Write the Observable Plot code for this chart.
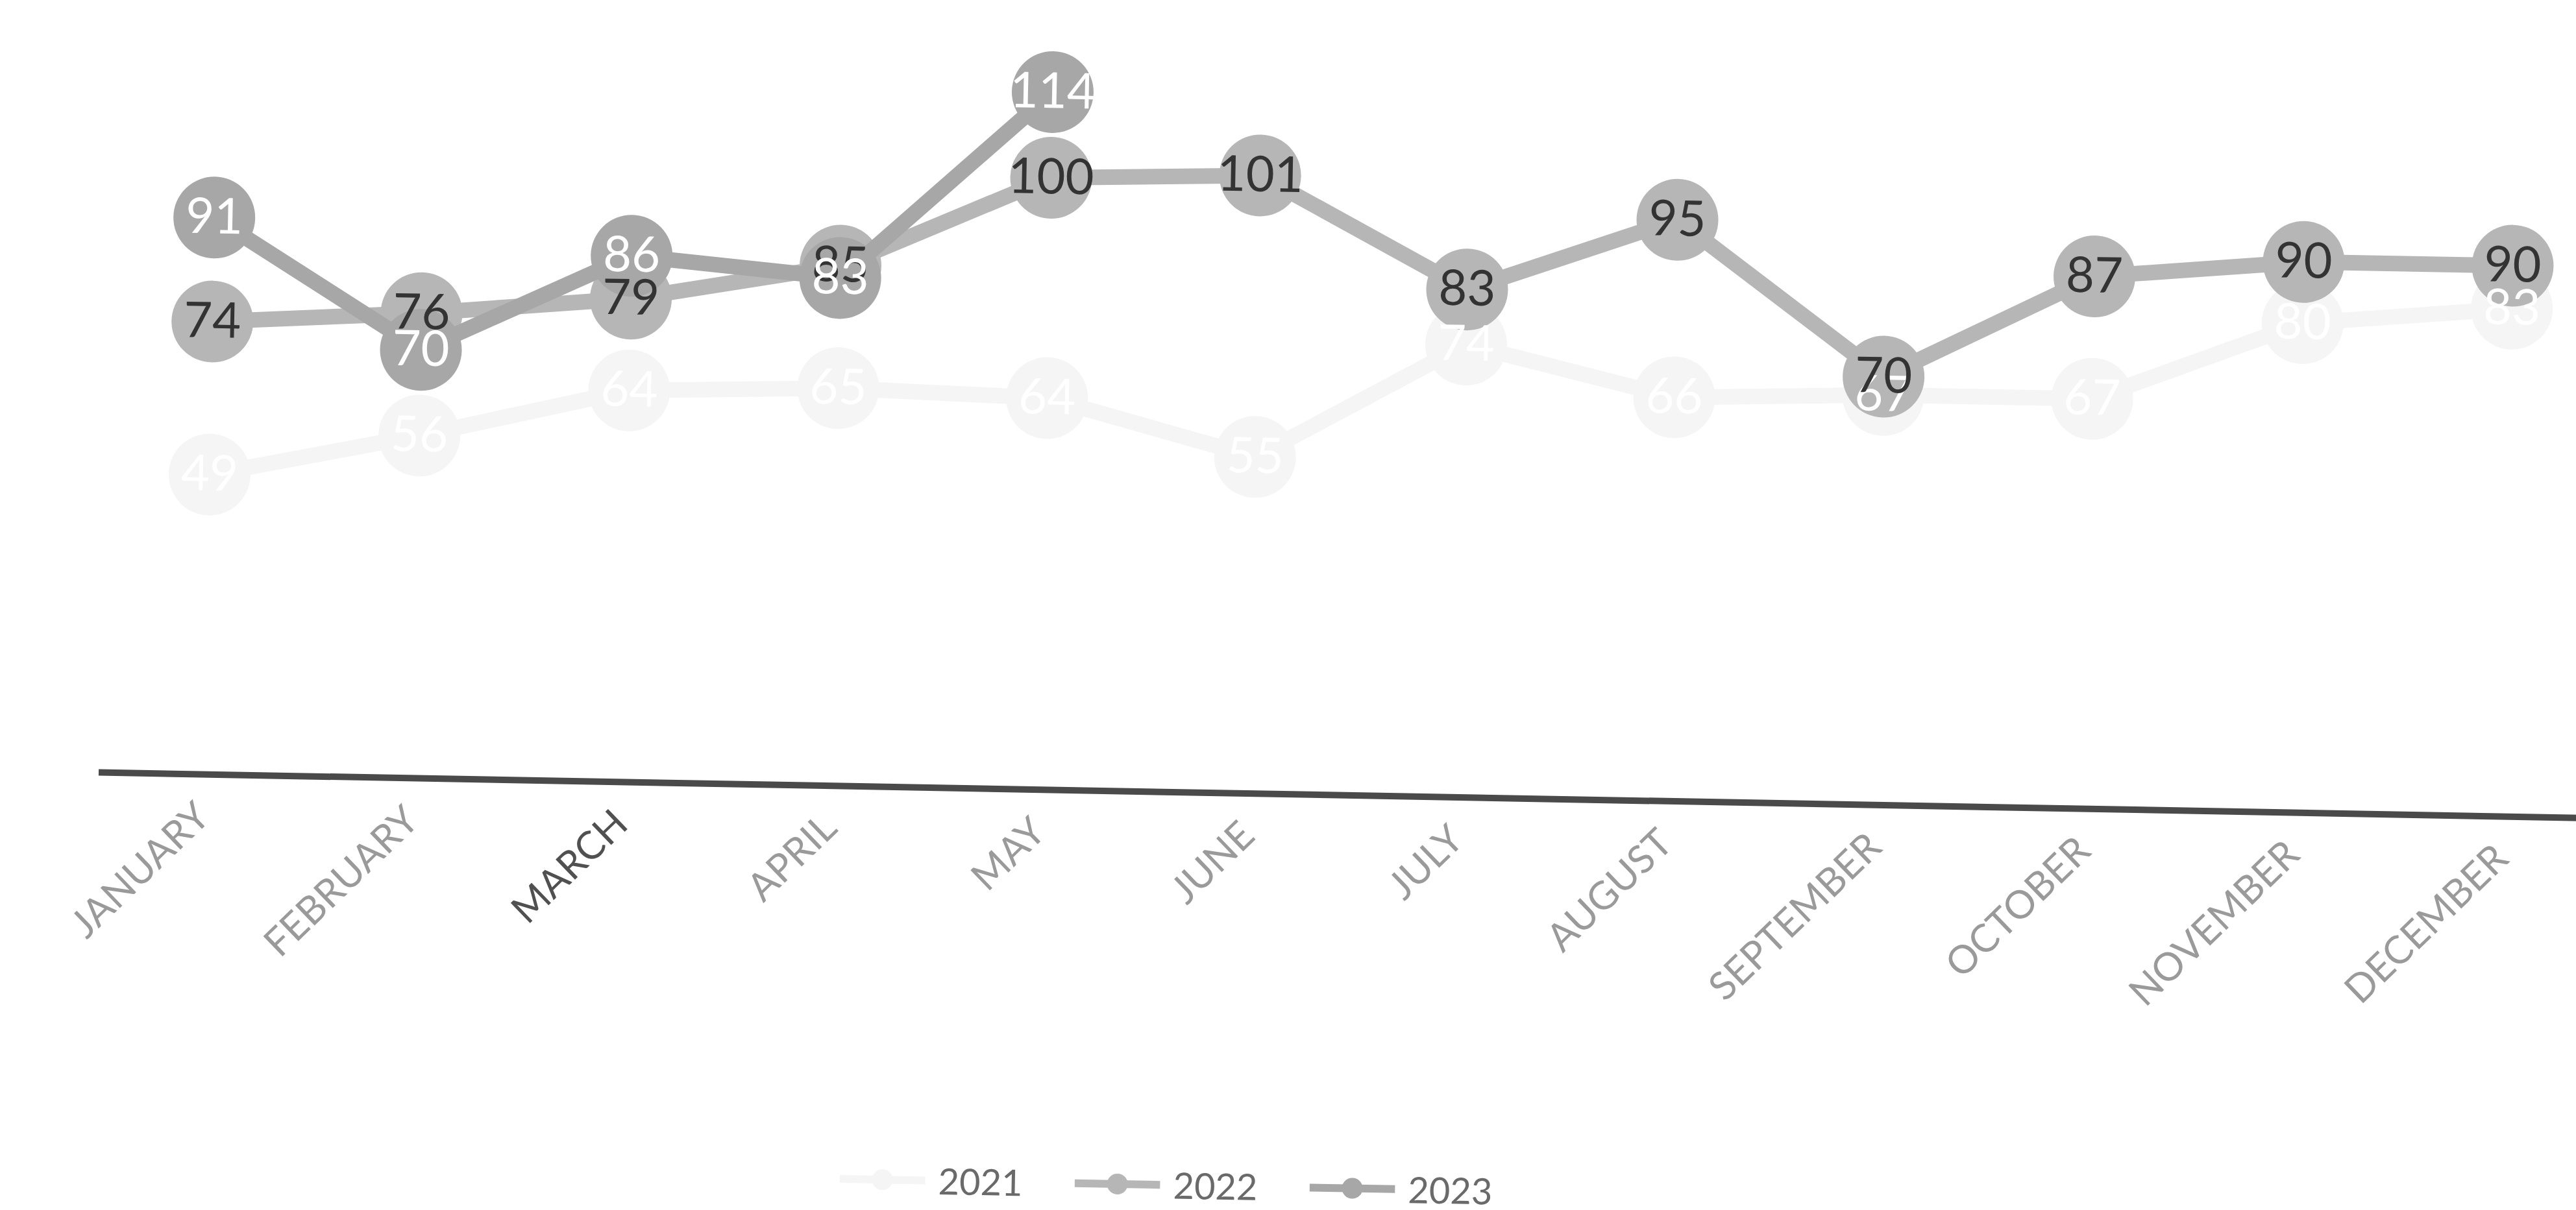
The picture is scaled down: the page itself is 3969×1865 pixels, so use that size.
<!DOCTYPE html>
<html><head><meta charset="utf-8">
<script src="https://cdn.jsdelivr.net/npm/d3@7"></script>
<script src="https://cdn.jsdelivr.net/npm/@observablehq/plot@0.6"></script>
<style>
html,body{margin:0;padding:0;background:#fff;overflow:hidden;width:3969px;height:1865px;}
#frame{position:absolute;left:0;top:0;width:4100px;height:1865px;transform:rotate(1.05deg);transform-origin:147px 1190px;}
#legend{position:absolute;left:1305px;top:1762px;display:flex;align-items:center;font-family:Lato, sans-serif;font-size:56px;color:#6a6a6a;}
#legend .item{display:flex;align-items:center;margin-right:80px;}
#legend svg{margin-right:20px;}
</style></head>
<body><div id="frame"><div id="chart"></div><div id="legend"></div></div>
<script>
const months = ["JANUARY","FEBRUARY","MARCH","APRIL","MAY","JUNE","JULY","AUGUST","SEPTEMBER","OCTOBER","NOVEMBER","DECEMBER"];
const years = ["2021","2022","2023"];
const values2021 = [49, 56, 64, 65, 64, 55, 74, 66, 67, 67, 80, 83];
const values2022 = [74, 76, 79, 85, 100, 101, 83, 95, 70, 87, 90, 90];
const values2023 = [91, 70, 86, 83, 114];

const seriesColor = {"2021": "#f5f5f5", "2022": "#b6b6b6", "2023": "#a7a7a7"};
const labelColor = {"2021": "#ffffff", "2022": "#333333", "2023": "#ffffff"};

const rows = [];
[["2021", values2021], ["2022", values2022], ["2023", values2023]].forEach(([yr, vals]) =>
  vals.forEach((v, i) => rows.push({year: yr, month: months[i], value: v})));

const marks = [Plot.ruleY([0], {stroke: "#4a4a4a", strokeWidth: 10})];
for (const yr of years) {
  const d = rows.filter(r => r.year === yr);
  marks.push(Plot.line(d, {x: "month", y: "value", stroke: seriesColor[yr], strokeWidth: 24}));
  marks.push(Plot.dot(d, {x: "month", y: "value", r: 63, fill: seriesColor[yr], stroke: "none"}));
}
for (const yr of years) {
  marks.push(Plot.text(rows.filter(r => r.year === yr), {
    x: "month", y: "value", text: d => String(d.value),
    fill: labelColor[yr], fontSize: 76, fontFamily: "Lato", letterSpacing: -3
  }));
}
marks.push(Plot.axisX({
  tickRotate: -45, tickSize: 0, tickPadding: 55, fontSize: 60,
  fill: d => d === "MARCH" ? "#505050" : "#9a9a9a", fontFamily: "Lato", label: null
}));

const chart = Plot.plot({
  width: 4027, height: 1760,
  marginLeft: 152, marginRight: 9, marginTop: 58, marginBottom: 570,
  x: {type: "point", domain: months, padding: 0.5},
  y: {domain: [0, 120], axis: null},
  style: {background: "white", overflow: "visible"},
  marks
});
document.getElementById("chart").appendChild(chart);

const legend = document.getElementById("legend");
for (const yr of years) {
  const item = document.createElement("div");
  item.className = "item";
  const ns = "http://www.w3.org/2000/svg";
  const s = document.createElementNS(ns, "svg");
  s.setAttribute("width", 132); s.setAttribute("height", 40);
  const ln = document.createElementNS(ns, "line");
  ln.setAttribute("x1", 0); ln.setAttribute("x2", 132); ln.setAttribute("y1", 20); ln.setAttribute("y2", 20);
  ln.setAttribute("stroke", seriesColor[yr]); ln.setAttribute("stroke-width", 12);
  const c = document.createElementNS(ns, "circle");
  c.setAttribute("cx", 66); c.setAttribute("cy", 20); c.setAttribute("r", 16); c.setAttribute("fill", seriesColor[yr]);
  s.appendChild(ln); s.appendChild(c);
  const t = document.createElement("span");
  t.textContent = yr;
  item.appendChild(s); item.appendChild(t);
  legend.appendChild(item);
}
</script></body></html>
